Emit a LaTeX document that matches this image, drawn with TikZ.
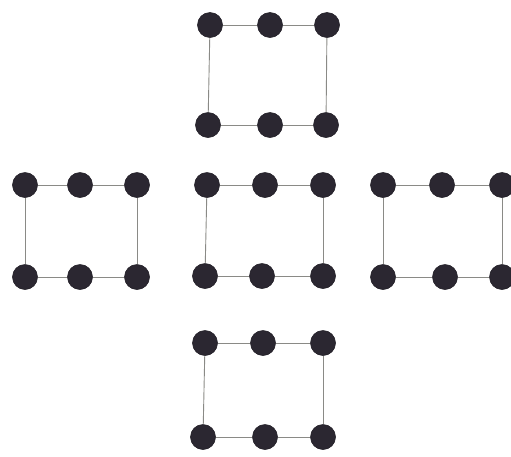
\documentclass[tikz,border=0pt]{standalone}
\definecolor{dotcol}{HTML}{2B2731}
\definecolor{linecol}{HTML}{8A8A86}
\tikzset{
  ball/.style={circle, fill=dotcol, draw=dotcol!80!black, line width=0.6pt, minimum size=25pt, inner sep=0pt},
  bond/.style={draw=linecol, line width=0.9pt}
}
\newcommand\ringbox[9]{%
  % #1 prefix, #2 #3 #4 top x, #5 ytop, #6 #7 #8 bottom x, #9 ybot
  \node[ball] (#1t1) at (#2,#5) {};
  \node[ball] (#1t2) at (#3,#5) {};
  \node[ball] (#1t3) at (#4,#5) {};
  \node[ball] (#1b1) at (#6,#9) {};
  \node[ball] (#1b2) at (#7,#9) {};
  \node[ball] (#1b3) at (#8,#9) {};
  \draw[bond] (#1t1) -- (#1t2);
  \draw[bond] (#1t2) -- (#1t3);
  \draw[bond] (#1b1) -- (#1b2);
  \draw[bond] (#1b2) -- (#1b3);
  \draw[bond] (#1t1) -- (#1b1);
  \draw[bond] (#1t3) -- (#1b3);
}
\begin{document}
\begin{tikzpicture}[x=1pt,y=-1pt]
\useasboundingbox (0,0) rectangle (511,456);
\ringbox{T}{210}{270}{327}{25}{208}{270}{326}{125}
\ringbox{L}{25}{80}{137}{185}{25}{80}{137}{277}
\ringbox{C}{207}{265}{323}{185}{205}{262}{323}{276}
\ringbox{R}{383}{442}{502}{185}{383}{445}{502}{277}
\ringbox{B}{205}{263}{323}{343}{203}{265}{323}{437}
\end{tikzpicture}
\end{document}
